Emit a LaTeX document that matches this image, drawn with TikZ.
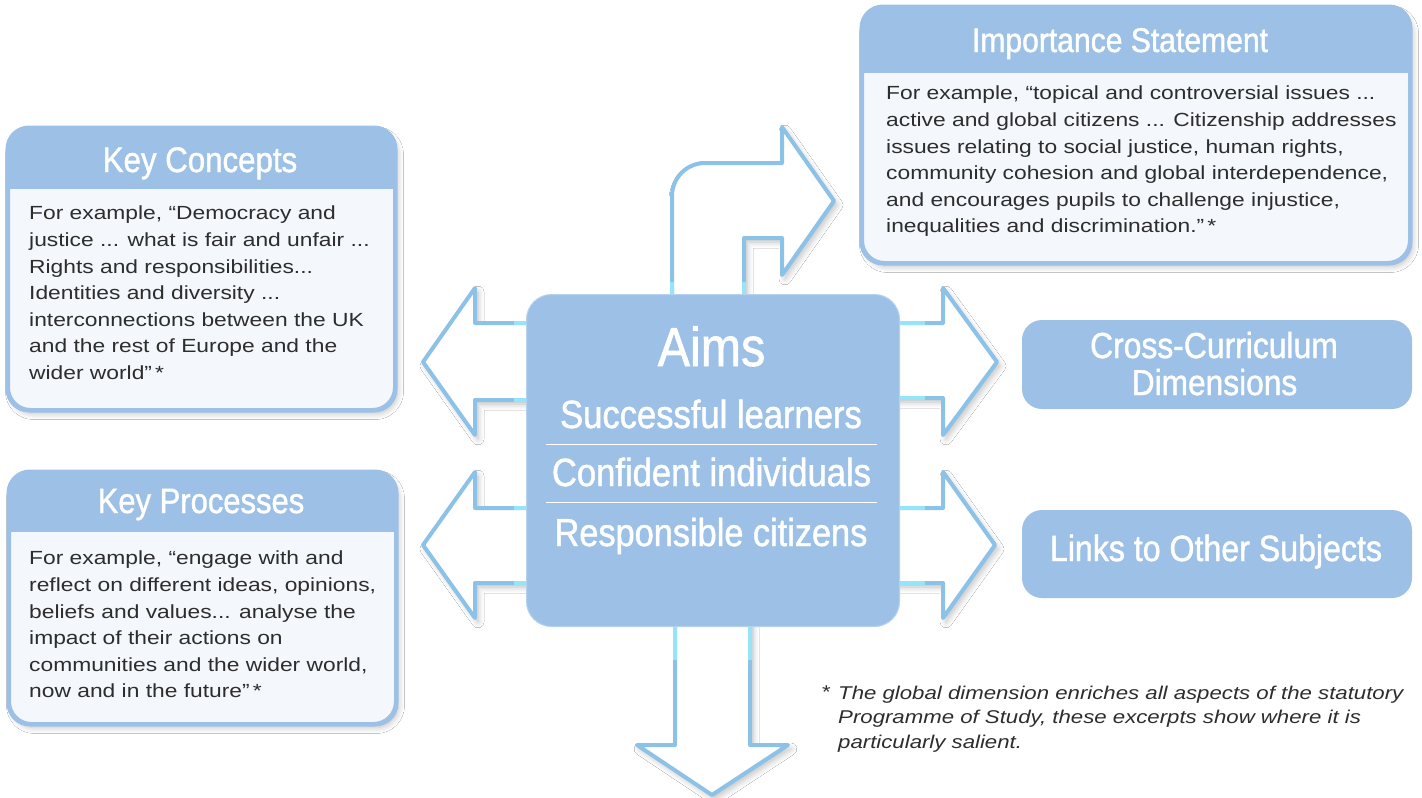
\documentclass[tikz,border=0pt]{standalone}
\usepackage{fontspec}
\setmainfont{Liberation Sans}
\newfontfamily\bodyfont[FakeStretch=1.2]{Liberation Sans}
\newfontfamily\headfont[FakeStretch=0.88, FakeBold=1.2]{Liberation Sans}
\usetikzlibrary{shadows.blur}
\definecolor{boxblue}{RGB}{157,193,230}
\definecolor{bodyfill}{RGB}{244,247,251}
\definecolor{arrowblue}{RGB}{140,193,232}
\definecolor{glowcyan}{RGB}{150,228,248}
\definecolor{textgray}{RGB}{45,45,45}
\definecolor{edgeblue}{RGB}{180,210,240}
\newcommand\panelhead[2]{%
  \begin{scope}
    \clip[rounded corners=22pt] (#1.north west) rectangle (#1.south east);
    \fill[boxblue] (#1.north west) rectangle (#1.east |- 0,#2);
  \end{scope}
  \draw[boxblue, line width=3pt, rounded corners=22pt] (#1.north west) rectangle (#1.south east);
}
\tikzset{
  softshadow/.style={blur shadow={shadow xshift=3pt, shadow yshift=-4pt, shadow opacity=25, shadow blur steps=8, shadow blur radius=6pt}},
  panel/.style={draw=boxblue, line width=3pt, fill=bodyfill, rounded corners=22pt, inner sep=0pt, softshadow},
  solidbox/.style={fill=boxblue, rounded corners=20pt, inner sep=0pt},
  blockarrow/.style={draw=arrowblue, line width=4pt, fill=white, line join=round, softshadow},
  glow/.style={draw=glowcyan, line width=4pt},
  headtext/.style={text=white, inner sep=0pt, anchor=base, font={\headfont\fontsize{#1}{#1}\selectfont}},
  bodytext/.style={text=textgray, anchor=north west, inner sep=0pt, align=left, font={\bodyfont\fontsize{19}{26.6}\selectfont}},
  notetext/.style={text=textgray, anchor=north west, inner sep=0pt, align=left, font={\bodyfont\itshape\fontsize{18.5}{24.5}\selectfont}},
}
\begin{document}
\begin{tikzpicture}[x=1pt, y=-1pt]
\useasboundingbox (0,0) rectangle (1422,798);
\fill[white] (0,0) rectangle (1422,798);

% ---- block arrows (behind the Aims box)
\draw[blockarrow] (540,323) -- (475,323) -- (475,288) -- (423,362) -- (475,435) -- (475,400) -- (540,400) -- cycle;
\draw[blockarrow] (540,508) -- (475,508) -- (475,472) -- (423,545) -- (475,618) -- (475,583) -- (540,583) -- cycle;
\draw[blockarrow] (886,323) -- (943,323) -- (943,288) -- (997,362) -- (943,435) -- (943,398) -- (886,398) -- cycle;
\draw[blockarrow] (886,508) -- (943,508) -- (943,472) -- (995,545) -- (943,618) -- (943,583) -- (886,583) -- cycle;
\draw[blockarrow] (672,308) [rounded corners=33pt] -- (672,163) [sharp corners] -- (782,163) -- (782,127) -- (834,201) -- (782,275) -- (782,238) -- (744,238) -- (744,308) -- cycle;
\draw[blockarrow] (675,615) -- (675,745) -- (637,745) -- (712,795) -- (788,745) -- (750,745) -- (750,615) -- cycle;

% glowing shaft ends
\draw[glow] (514,323) -- (528,323);
\draw[glow] (514,400) -- (528,400);
\draw[glow] (514,508) -- (528,508);
\draw[glow] (514,583) -- (528,583);
\draw[glow] (898,323) -- (925,323);
\draw[glow] (898,398) -- (925,398);
\draw[glow] (898,508) -- (925,508);
\draw[glow] (898,583) -- (925,583);
\draw[glow] (672,282) -- (672,296);
\draw[glow] (744,282) -- (744,296);
\draw[glow] (675,625) -- (675,660);
\draw[glow] (750,625) -- (750,660);

% ---- central Aims box
\node[fill=boxblue, draw=edgeblue, line width=1pt, rounded corners=25pt, minimum width=373pt, minimum height=332pt, inner sep=0pt] (aims) at (713,460.5) {};
\node[headtext=55] (aimst) at (711.5,366) {Aims};
\node[headtext=39.3] (succ) at (711,428) {Successful learners};
\draw[white, line width=1pt] (546,444) -- (877,444);
\node[headtext=39.3] (conf) at (711.5,486) {Confident individuals};
\draw[white, line width=1pt] (546,502) -- (877,502);
\node[headtext=39] (resp) at (711,546) {Responsible citizens};

% ---- Key Concepts
\node[panel, minimum width=386pt, minimum height=281pt] (kc) at (201.5,269) {};
\panelhead{kc}{189}
\node[headtext=35.5] (kct) at (200,172) {Key Concepts};
\node[bodytext] (kcb) at (29,206) {For example, “Democracy and\\justice ... what is fair and unfair ...\\Rights and responsibilities...\\Identities and diversity ...\\interconnections between the UK\\and the rest of Europe and the\\wider world”\,*};

% ---- Key Processes
\node[panel, minimum width=386pt, minimum height=251pt] (kp) at (202.5,598) {};
\panelhead{kp}{532}
\node[headtext=35.2] (kpt) at (201,513) {Key Processes};
\node[bodytext] (kpb) at (29,551) {For example, “engage with and\\reflect on different ideas, opinions,\\beliefs and values... analyse the\\impact of their actions on\\communities and the wider world,\\now and in the future”\,*};

% ---- Importance Statement
\node[panel, minimum width=547pt, minimum height=255pt] (imp) at (1136,135) {};
\panelhead{imp}{73}
\node[headtext=34.2] (impt) at (1120,52) {Importance Statement};
\node[bodytext] (impb) at (886,86) {For example, “topical and controversial issues ...\\active and global citizens ... Citizenship addresses\\issues relating to social justice, human rights,\\community cohesion and global interdependence,\\and encourages pupils to challenge injustice,\\inequalities and discrimination.”\,*};

% ---- right solid boxes
\node[solidbox, minimum width=390pt, minimum height=89pt] (ccd) at (1217,364.5) {};
\node[headtext=36.2] (ccdt1) at (1214,358) {Cross-Curriculum};
\node[headtext=36] (ccdt2) at (1214.5,395) {Dimensions};
\node[solidbox, minimum width=390pt, minimum height=88pt] (links) at (1217,554) {};
\node[headtext=36.5] (linkst) at (1216,561) {Links to Other Subjects};

% ---- footnote
\node[notetext, font={\bodyfont\fontsize{18.5}{24.5}\selectfont}] (fnstar) at (822,685.5) {*};
\node[notetext] (fn) at (838,685.5) {The global dimension enriches all aspects of the statutory\\Programme of Study, these excerpts show where it is\\particularly salient.};
\end{tikzpicture}
\end{document}
